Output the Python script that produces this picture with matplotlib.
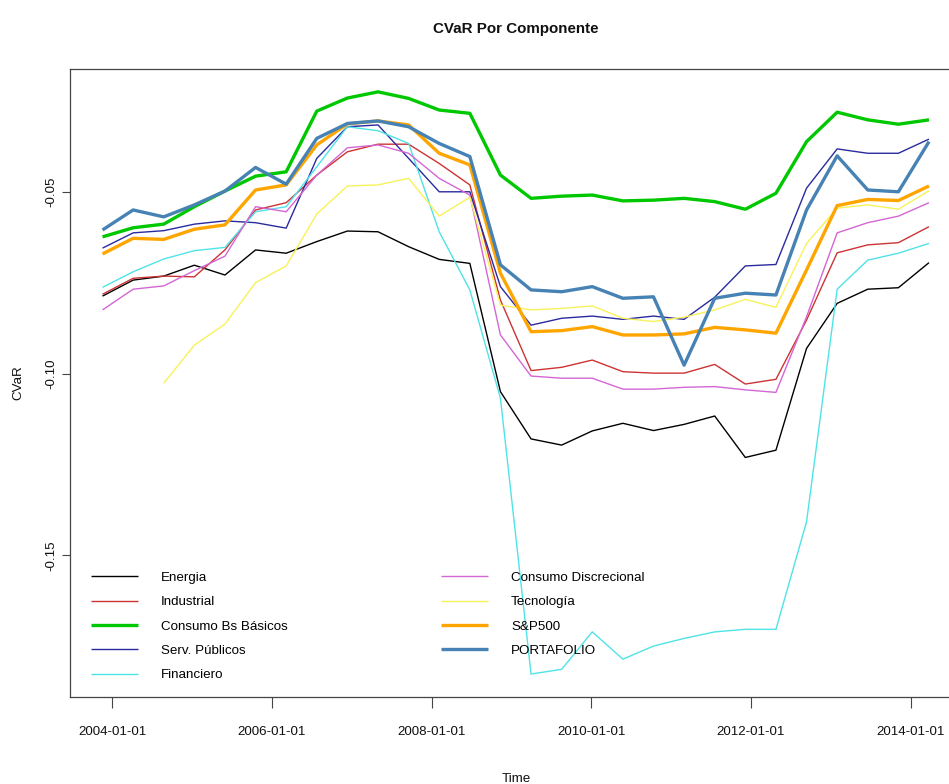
import matplotlib
matplotlib.use("Agg")
import matplotlib.pyplot as plt
import numpy as np
import pandas as pd
from matplotlib import font_manager

# ---------------- data ----------------
dates = ["2003-11-18", "2004-04-06", "2004-08-24", "2005-01-11", "2005-05-31",
         "2005-10-18", "2006-03-07", "2006-07-25", "2006-12-12", "2007-05-01",
         "2007-09-18", "2008-02-05", "2008-06-24", "2008-11-11", "2009-03-31",
         "2009-08-18", "2010-01-05", "2010-05-25", "2010-10-12", "2011-03-01",
         "2011-07-19", "2011-12-06", "2012-04-24", "2012-09-11", "2013-01-29",
         "2013-06-18", "2013-11-05", "2014-03-25"]

energia = [-0.0787, -0.0743, -0.0732, -0.0702, -0.0729, -0.0660, -0.0669, -0.0637,
           -0.0608, -0.0610, -0.0651, -0.0686, -0.0697, -0.1050, -0.1180, -0.1197,
           -0.1158, -0.1137, -0.1157, -0.1140, -0.1117, -0.1231, -0.1211, -0.0931,
           -0.0807, -0.0768, -0.0764, -0.0695]
industrial = [-0.0782, -0.0738, -0.0732, -0.0734, -0.0660, -0.0550, -0.0530, -0.0454,
              -0.0390, -0.0369, -0.0369, -0.0422, -0.0481, -0.0798, -0.0992, -0.0983,
              -0.0963, -0.0995, -0.0999, -0.0999, -0.0975, -0.1029, -0.1016, -0.0853,
              -0.0668, -0.0646, -0.0640, -0.0596]
consumo_basicos = [-0.0624, -0.0599, -0.0589, -0.0541, -0.0498, -0.0457, -0.0445, -0.0278,
                   -0.0242, -0.0225, -0.0243, -0.0275, -0.0284, -0.0454, -0.0518, -0.0512,
                   -0.0509, -0.0525, -0.0523, -0.0518, -0.0527, -0.0548, -0.0504, -0.0362,
                   -0.0281, -0.0302, -0.0314, -0.0302]
serv_publicos = [-0.0655, -0.0613, -0.0607, -0.0589, -0.0580, -0.0585, -0.0600, -0.0408,
                 -0.0321, -0.0316, -0.0408, -0.0500, -0.0500, -0.0761, -0.0867, -0.0848,
                 -0.0842, -0.0851, -0.0842, -0.0851, -0.0790, -0.0704, -0.0700, -0.0490,
                 -0.0382, -0.0394, -0.0394, -0.0355]
financiero = [-0.0763, -0.0720, -0.0685, -0.0662, -0.0653, -0.0555, -0.0541, -0.0431,
              -0.0321, -0.0332, -0.0367, -0.0610, -0.0770, -0.1068, -0.1827, -0.1814,
              -0.1711, -0.1786, -0.1750, -0.1729, -0.1711, -0.1704, -0.1704, -0.1408,
              -0.0768, -0.0688, -0.0669, -0.0642]
consumo_discrecional = [-0.0825, -0.0768, -0.0759, -0.0717, -0.0677, -0.0541, -0.0555, -0.0454,
                        -0.0379, -0.0371, -0.0394, -0.0463, -0.0509, -0.0894, -0.1007, -0.1013,
                        -0.1013, -0.1043, -0.1043, -0.1038, -0.1036, -0.1045, -0.1052, -0.0844,
                        -0.0613, -0.0585, -0.0567, -0.0530]
tecnologia = [np.nan, np.nan, -0.1027, -0.0922, -0.0864, -0.0750, -0.0704, -0.0561,
              -0.0484, -0.0481, -0.0463, -0.0567, -0.0515, -0.0812, -0.0825, -0.0821,
              -0.0814, -0.0848, -0.0857, -0.0845, -0.0825, -0.0796, -0.0818, -0.0642,
              -0.0545, -0.0536, -0.0548, -0.0497]
sp500 = [-0.0671, -0.0628, -0.0631, -0.0603, -0.0591, -0.0495, -0.0481, -0.0371,
         -0.0313, -0.0305, -0.0316, -0.0394, -0.0426, -0.0724, -0.0885, -0.0882,
         -0.0871, -0.0894, -0.0894, -0.0891, -0.0873, -0.0880, -0.0889, -0.0715,
         -0.0538, -0.0521, -0.0524, -0.0484]
portafolio = [-0.0605, -0.0550, -0.0569, -0.0536, -0.0498, -0.0433, -0.0479, -0.0353,
              -0.0312, -0.0305, -0.0321, -0.0367, -0.0403, -0.0701, -0.0770, -0.0775,
              -0.0761, -0.0793, -0.0789, -0.0977, -0.0793, -0.0779, -0.0784, -0.0550,
              -0.0401, -0.0495, -0.0500, -0.0362]

labels = ["Energia", "Industrial", "Consumo Bs Básicos", "Serv. Públicos", "Financiero",
          "Consumo Discrecional", "Tecnología", "S&P500", "PORTAFOLIO"]
xtick_dates = ["2004-01-01", "2006-01-01", "2008-01-01", "2010-01-01", "2012-01-01", "2014-01-01"]
ytick_vals = [-0.15, -0.10, -0.05]
ytick_labels = ["-0.15", "-0.10", "-0.05"]

# ---------------- style ----------------
names = {f.name for f in font_manager.fontManager.ttflist}
if "Liberation Sans Narrow" in names:
    FONT, k = "Liberation Sans Narrow", 1.1
else:
    FONT, k = "Liberation Sans", 0.9
plt.rcParams["font.family"] = [FONT, "DejaVu Sans"]

colors = ["#000000", "#CD3333", "#00C800", "#2A2A9E", "#4FE3E8",
          "#D466D4", "#F8F25A", "#FFA500", "#4682B4"]
widths = [1.0, 1.0, 2.4, 1.0, 1.0, 1.0, 1.0, 2.4, 2.4]
series = [energia, industrial, consumo_basicos, serv_publicos, financiero,
          consumo_discrecional, tecnologia, sp500, portafolio]

W, H = 949, 784
fig = plt.figure(figsize=(W / 100, H / 100), dpi=100)
L, R, T, B = 69.5, 962.0, 69.0, 697.3
ax = fig.add_axes([L / W, (H - B) / H, (R - L) / W, (B - T) / H])

x = pd.to_datetime(dates)
handles = []
for vals, c, lw, lab in zip(series, colors, widths, labels):
    h, = ax.plot(x, np.asarray(vals, dtype=float), color=c, lw=lw, label=lab,
                 solid_joinstyle="round", solid_capstyle="butt")
    handles.append(h)

ax.set_xlim(pd.Timestamp("2003-06-20"), pd.Timestamp("2014-08-23"))
ax.set_ylim(-0.1891, -0.01621)

fs = 10.7 * k
ax.set_xticks(pd.to_datetime(xtick_dates))
ax.set_xticklabels(xtick_dates, fontsize=fs, color="#111111")
ax.set_yticks(ytick_vals)
ax.set_yticklabels(ytick_labels, fontsize=fs, rotation=90, va="center", color="#111111")
ax.tick_params(axis="x", length=7.9, width=0.8, pad=13, color="#444444")
ax.tick_params(axis="y", length=5.5, width=0.8, pad=3.5, color="#444444")
for s in ax.spines.values():
    s.set_color("#444444")
    s.set_linewidth(0.9)

# titles / axis labels
tk = 0.84 if FONT == "Liberation Sans" else 1.0
fig.text(515.8 / W, 1 - 33 / H, "CVaR Por Componente", ha="center", va="baseline",
         fontsize=13 * tk, fontweight="bold", color="#111111")
fig.text(515.8 / W, 2.5 / H, "Time", ha="center", va="baseline", fontsize=fs, color="#111111")
fig.text(18.5 / W, 1 - 383 / H, "CVaR", ha="center", va="center", rotation=90,
         fontsize=fs, color="#111111")

# legends (two columns)
fpx = fs * 100 / 72
leg_kw = dict(loc="upper left", frameon=False, fontsize=fs, borderpad=0, borderaxespad=0,
              handlelength=47 / fpx, handletextpad=23 / fpx, labelspacing=0.9,
              bbox_transform=fig.transFigure)
leg1 = ax.legend(handles[:5], labels[:5], bbox_to_anchor=(91 / W, 1 - 571.5 / H), **leg_kw)
ax.add_artist(leg1)
leg2 = ax.legend(handles[5:], labels[5:], bbox_to_anchor=(441 / W, 1 - 571.5 / H), **leg_kw)

fig.savefig("out.png", dpi=100)
